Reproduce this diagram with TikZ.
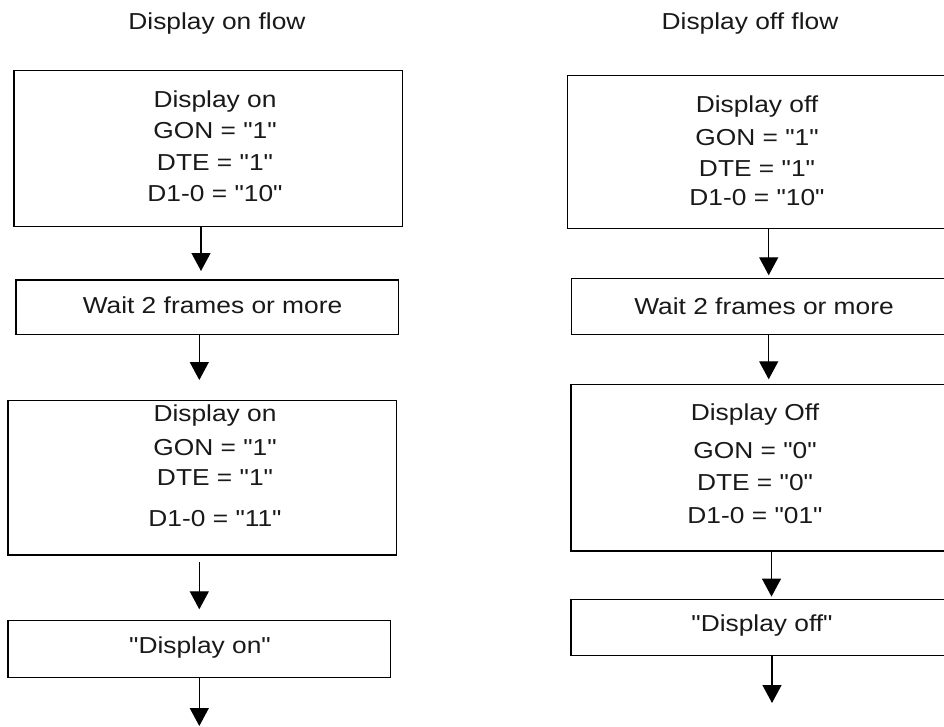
\documentclass[tikz,border=0pt]{standalone}
\usepackage{fontspec}
\setmainfont[FakeStretch=1.14, Ligatures=TeXOff]{Liberation Sans}
\usetikzlibrary{arrows.meta}
\begin{document}
\begin{tikzpicture}[x=1pt,y=-1pt,
  box/.style={draw=black, line width=1.4pt, fill=white, inner sep=0pt},
  txt/.style={font=\fontsize{23.1pt}{31.5pt}\selectfont, text=black!90, align=center, inner sep=0pt},
  arr/.style={line width=1.3pt, -{Triangle[width=19pt,length=18pt]}}]
\useasboundingbox (0,0) rectangle (944,727);
\fill[white] (0,0) rectangle (944,727);

% titles
\node[txt, anchor=base] (tL) at (217,29.5) {Display on flow};
\node[txt, anchor=base] (tR) at (750,29.5) {Display off flow};

% left column boxes
\node[box, minimum width=388.7pt, minimum height=156pt] (L1) at (208.35,148.7) {};
\node[box, minimum width=382.7pt, minimum height=54.3pt] (L2) at (207.35,307.15) {};
\node[box, minimum width=388.7pt, minimum height=154.3pt] (L3) at (202.35,477.85) {};
\node[box, minimum width=382.7pt, minimum height=56.6pt] (L4) at (199.35,649) {};

% right column boxes (cut by the right edge)
\node[box, minimum width=382.3pt, minimum height=153pt] (R1) at (758.85,152.2) {};
\node[box, minimum width=378.7pt, minimum height=56pt] (R2) at (760.65,306.3) {};
\node[box, minimum width=379pt, minimum height=166.7pt] (R3) at (760.5,467.65) {};
\node[box, minimum width=379pt, minimum height=56.4pt] (R4) at (760.5,627.5) {};

% texts
\node[txt] (L1t) at (215,146.2) {Display on\\GON = "1"\\DTE = "1"\\D1-0 = "10"};
\node[txt, anchor=base] (L2t) at (212.5,313.5) {Wait 2 frames or more};
\node[txt] (L3t) at (215,465.5) {Display on\\[2.5pt]GON = "1"\\[-1.5pt]DTE = "1"\\[9.5pt]D1-0 = "11"};
\node[txt, anchor=base] (L4t) at (200,653) {"Display on"};

\node[txt] (R1t) at (757,150.5) {Display off\\[1.5pt]GON = "1"\\[-0.5pt]DTE = "1"\\[-2.5pt]D1-0 = "10"};
\node[txt, anchor=base] (R2t) at (764,314) {Wait 2 frames or more};
\node[txt] (R3t) at (755,463.5) {Display Off\\[6.5pt]GON = "0"\\[0.5pt]DTE = "0"\\[1.5pt]D1-0 = "01"};
\node[txt, anchor=base] (R4t) at (762,631.6) {"Display off"};

% connector axes
\coordinate (xL1) at (201,0);
\coordinate (xL) at (199.3,0);
\coordinate (xR1) at (768.7,0);
\coordinate (xR2) at (771.5,0);
\coordinate (endL) at (199.3,726);
\coordinate (endR) at (772,703);

% connectors
\draw[arr, shorten >=8.3pt] (L1.south -| xL1) -- (L2.north -| xL1);
\draw[arr, shorten >=20pt] (L2.south -| xL) -- (L3.north -| xL);
\draw[arr, shorten <=6.7pt, shorten >=10.7pt] (L3.south -| xL) -- (L4.north -| xL);
\draw[arr] (L4.south -| endL) -- (endL);

\draw[arr, shorten >=2.3pt] (R1.south -| xR1) -- (R2.north -| xR1);
\draw[arr, shorten >=4.3pt] (R2.south -| xR1) -- (R3.north -| xR1);
\draw[arr, shorten >=2pt] (R3.south -| xR2) -- (R4.north -| xR2);
\draw[arr] (R4.south -| endR) -- (endR);
\end{tikzpicture}
\end{document}
